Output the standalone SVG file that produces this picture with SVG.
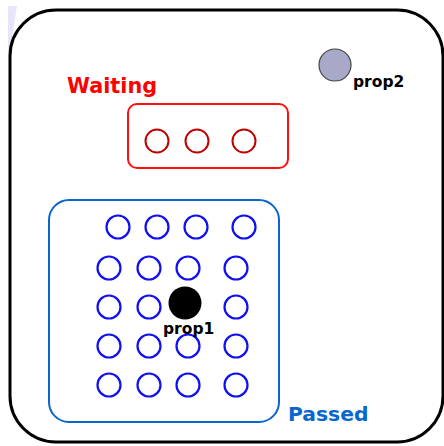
<svg xmlns="http://www.w3.org/2000/svg" width="444" height="446" viewBox="0 0 444 446">
  <style>
    .lbl { font-family: "DejaVu Sans", Verdana, sans-serif; font-weight: bold; }
    .wait { fill: none; stroke: #c00000; stroke-width: 2; }
    .pass { fill: none; stroke: #1010f0; stroke-width: 2.2; }
  </style>
  <rect width="444" height="446" fill="#ffffff"/>
  <!-- faint sheen at top-left edge -->
  <polygon points="8,6 17,6 10,50 8,50" fill="#e6e6f8"/>

  <!-- outer state space -->
  <g id="space">
    <rect x="10" y="10" width="433" height="432" rx="46" ry="46" fill="none" stroke="#000" stroke-width="3"/>
  </g>

  <!-- Waiting set -->
  <g id="waiting">
    <text class="lbl" x="67" y="93" font-size="20.8" fill="#ff0000">Waiting</text>
    <rect x="128" y="104" width="160" height="64" rx="9" ry="9" fill="none" stroke="#ff1010" stroke-width="2"/>
    <circle class="wait" cx="157" cy="141" r="11.5"/>
    <circle class="wait" cx="197" cy="141" r="11.5"/>
    <circle class="wait" cx="244" cy="141" r="11.5"/>
  </g>

  <!-- Passed set -->
  <g id="passed">
    <rect x="49" y="200" width="230" height="222" rx="20" ry="20" fill="none" stroke="#0a66cc" stroke-width="2"/>
    <text class="lbl" x="288" y="421" font-size="20.3" fill="#0a66cc">Passed</text>
    <circle class="pass" cx="118" cy="227" r="11.5"/>
    <circle class="pass" cx="157" cy="227" r="11.5"/>
    <circle class="pass" cx="196" cy="227" r="11.5"/>
    <circle class="pass" cx="244" cy="227" r="11.5"/>
    <circle class="pass" cx="109" cy="268" r="11.5"/>
    <circle class="pass" cx="149" cy="268" r="11.5"/>
    <circle class="pass" cx="188" cy="268" r="11.5"/>
    <circle class="pass" cx="236" cy="268" r="11.5"/>
    <circle class="pass" cx="109" cy="307" r="11.5"/>
    <circle class="pass" cx="149" cy="307" r="11.5"/>
    <circle class="pass" cx="236" cy="307" r="11.5"/>
    <circle class="pass" cx="109" cy="346" r="11.5"/>
    <circle class="pass" cx="149" cy="346" r="11.5"/>
    <circle class="pass" cx="188" cy="346" r="11.5"/>
    <circle class="pass" cx="236" cy="346" r="11.5"/>
    <circle class="pass" cx="109" cy="385" r="11.5"/>
    <circle class="pass" cx="149" cy="385" r="11.5"/>
    <circle class="pass" cx="188" cy="385" r="11.5"/>
    <circle class="pass" cx="236" cy="385" r="11.5"/>
  </g>

  <!-- property prop1 -->
  <g id="prop1">
    <circle cx="185" cy="303" r="16.5" fill="#000"/>
    <text class="lbl" x="163" y="334" font-size="15.5" fill="#000">prop1</text>
  </g>

  <!-- property prop2 -->
  <g id="prop2">
    <circle cx="335" cy="65" r="16" fill="#a8a8c8" stroke="#444" stroke-width="1.2"/>
    <text class="lbl" x="353" y="87" font-size="15.5" fill="#000">prop2</text>
  </g>
</svg>
